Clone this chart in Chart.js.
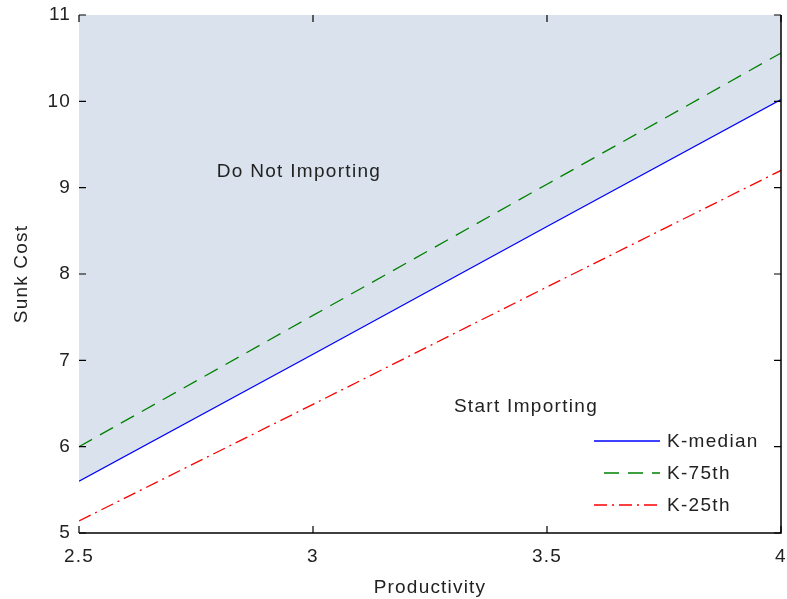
<!DOCTYPE html>
<html lang="en">
<head>
  <meta charset="UTF-8">
  <title>Sunk Cost vs Productivity</title>
  <script src="https://cdn.jsdelivr.net/npm/chart.js"></script>
  <style>
    body {
      margin: 0;
      background: #fff;
    }
    #wrap {
      width: 787px;
      height: 599px;
    }
  </style>
</head>
<body>
  <div id="wrap"><canvas id="sunkChart" width="787" height="599"></canvas></div>

  <script>
    // values
    const productivity = [2.5, 3, 3.5, 4];
    const kMedian = [5.6, 7.07, 8.55, 10.02];
    const k75th = [6.0, 7.52, 9.04, 10.56];
    const k25th = [5.14, 6.49, 7.85, 9.2];
    const xTicks = [2.5, 3, 3.5, 4];
    const yTicks = [5, 6, 7, 8, 9, 10, 11];

    const FONT = '"Liberation Sans", Arial, sans-serif';
    const TEXT = '#222';

    const toPoints = ys => productivity.map((x, i) => ({ x: x, y: ys[i] }));

    // the old matlab text is a bit spaced out
    const spacing = {
      id: 'spacing',
      beforeDraw(chart) { chart.ctx.letterSpacing = '1.2px'; }
    };

    // inward ticks, right/bottom border, region labels and legend
    const decorations = {
      id: 'decorations',
      afterDatasetsDraw(chart) {
        const { ctx, chartArea: a, scales: { x, y } } = chart;
        ctx.save();
        ctx.strokeStyle = '#000';
        ctx.lineWidth = 1.5;
        ctx.beginPath();
        ctx.moveTo(a.left, a.bottom);
        ctx.lineTo(a.right, a.bottom);
        ctx.lineTo(a.right, a.top);
        ctx.stroke();

        ctx.lineWidth = 1.2;
        const len = 7;
        ctx.beginPath();
        yTicks.forEach(v => {
          const py = y.getPixelForValue(v);
          ctx.moveTo(a.left, py); ctx.lineTo(a.left + len, py);
          ctx.moveTo(a.right, py); ctx.lineTo(a.right - len, py);
        });
        xTicks.forEach(v => {
          const px = x.getPixelForValue(v);
          ctx.moveTo(px, a.bottom); ctx.lineTo(px, a.bottom - len);
          ctx.moveTo(px, a.top); ctx.lineTo(px, a.top + len);
        });
        ctx.stroke();

        ctx.fillStyle = TEXT;
        ctx.font = '19px ' + FONT;
        ctx.letterSpacing = '1.3px';
        ctx.textBaseline = 'middle';
        ctx.textAlign = 'center';
        ctx.fillText('Do Not Importing', x.getPixelForValue(2.97), y.getPixelForValue(9.18));
        ctx.fillText('Start Importing', x.getPixelForValue(3.455), y.getPixelForValue(6.46));

        // legend, no box
        ctx.textAlign = 'left';
        const rows = chart.data.datasets;
        const lx0 = 594, lx1 = 660, tx = 667;
        const ry = [441, 473, 505];
        rows.forEach((ds, i) => {
          ctx.strokeStyle = ds.borderColor;
          ctx.lineWidth = 1.3;
          ctx.setLineDash(ds.borderDash || []);
          ctx.beginPath();
          ctx.moveTo(ds.borderDash && ds.borderDash.length === 2 ? lx0 + 10 : lx0, ry[i]);
          ctx.lineTo(lx1, ry[i]);
          ctx.stroke();
          ctx.setLineDash([]);
          ctx.fillStyle = TEXT;
          ctx.fillText(ds.label, tx, ry[i] + 1);
        });
        ctx.restore();
      }
    };

    new Chart(document.getElementById('sunkChart'), {
      type: 'line',
      data: {
        datasets: [
          {
            label: 'K-median',
            data: toPoints(kMedian),
            borderColor: '#0000ff',
            borderWidth: 1.3,
            backgroundColor: '#dae3ed',
            fill: 'end',
            pointRadius: 0,
            tension: 0
          },
          {
            label: 'K-75th',
            data: toPoints(k75th),
            borderColor: '#008000',
            borderWidth: 1.3,
            borderDash: [15, 9],
            fill: false,
            pointRadius: 0,
            tension: 0
          },
          {
            label: 'K-25th',
            data: toPoints(k25th),
            borderColor: '#ff0000',
            borderWidth: 1.3,
            borderDash: [13, 5, 2, 5],
            fill: false,
            pointRadius: 0,
            tension: 0
          }
        ]
      },
      options: {
        responsive: false,
        animation: false,
        layout: { padding: { top: 15, right: 6, left: 0, bottom: 0 } },
        plugins: {
          legend: { display: false },
          tooltip: { enabled: false },
          filler: { drawTime: 'beforeDatasetsDraw' }
        },
        scales: {
          x: {
            type: 'linear',
            min: 2.5,
            max: 4,
            afterBuildTicks: s => { s.ticks = xTicks.map(v => ({ value: v })); },
            afterFit: s => { s.height = 66; s.paddingLeft = 0; s.paddingRight = 0; },
            grid: { display: false, drawTicks: false },
            border: { display: false },
            ticks: {
              color: TEXT,
              font: { family: FONT, size: 19 },
              padding: 12,
              callback: v => String(v)
            },
            title: {
              display: true,
              text: 'Productivity',
              color: TEXT,
              font: { family: FONT, size: 19 },
              padding: { top: 2, bottom: 0 }
            }
          },
          y: {
            min: 5,
            max: 11,
            afterBuildTicks: s => { s.ticks = yTicks.map(v => ({ value: v })); },
            afterFit: s => { s.width = 79; s.paddingTop = 0; s.paddingBottom = 0; },
            grid: { display: false, drawTicks: false },
            border: { display: false },
            ticks: {
              color: TEXT,
              font: { family: FONT, size: 19 },
              padding: 8
            },
            title: {
              display: true,
              text: 'Sunk Cost',
              color: TEXT,
              font: { family: FONT, size: 19 },
              padding: { top: 10, bottom: 4 }
            }
          }
        }
      },
      plugins: [spacing, decorations]
    });
  </script>
</body>
</html>
